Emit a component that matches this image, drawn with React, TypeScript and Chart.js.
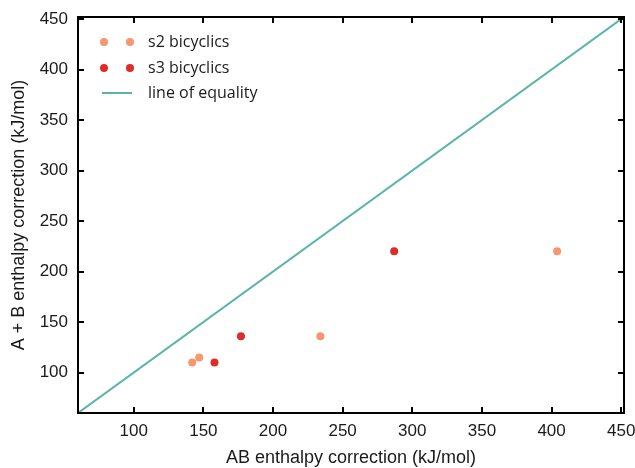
import React, { useEffect, useRef } from "react";
import { Chart, registerables } from "chart.js";

Chart.register(...registerables);

const s2X = [142, 147, 234, 404];
const s2Y = [110, 115, 136, 220];
const s3X = [158, 177, 287];
const s3Y = [110, 136, 220];
const equalityX = [60, 452];
const xTicks = [100, 150, 200, 250, 300, 350, 400, 450];
const yTicks = [100, 150, 200, 250, 300, 350, 400, 450];
const legendLabels = ["s2 bicyclics", "s3 bicyclics", "line of equality"];
const xTitle = "AB enthalpy correction (kJ/mol)";
const yTitle = "A + B enthalpy correction (kJ/mol)";

const C_S2 = "#f9956f";
const C_S3 = "#de2d26";
const C_LINE = "#5ab4ac";
const FONT = "'Liberation Sans', Arial, sans-serif";
const LEGEND_FONT = "'Open Sans', sans-serif";

const framePlugin = {
  id: "frameTicks",
  afterDraw(chart: any) {
    const { ctx, chartArea } = chart;
    const { left, right, top, bottom } = chartArea;
    const xs = chart.scales.x;
    const ys = chart.scales.y;
    ctx.save();
    ctx.strokeStyle = "#000";
    ctx.lineWidth = 2;
    ctx.strokeRect(left, top, right - left, bottom - top);
    const L = 6;
    ctx.beginPath();
    xs.ticks.forEach((t: any) => {
      const px = Math.round(xs.getPixelForValue(t.value));
      ctx.moveTo(px, bottom);
      ctx.lineTo(px, bottom - L);
      ctx.moveTo(px, top);
      ctx.lineTo(px, top + L);
    });
    ys.ticks.forEach((t: any) => {
      const py = Math.round(ys.getPixelForValue(t.value));
      ctx.moveTo(left, py);
      ctx.lineTo(left + L, py);
      ctx.moveTo(right, py);
      ctx.lineTo(right - L, py);
    });
    ctx.stroke();

    // legend
    const colors = [C_S2, C_S3, C_LINE];
    const rows = [25, 51, 76];
    ctx.font = `16px ${LEGEND_FONT}`;
    ctx.textBaseline = "middle";
    ctx.textAlign = "left";
    legendLabels.forEach((lab, i) => {
      const y = top + rows[i];
      const m1 = left + 26;
      const m2 = left + 52;
      if (i < 2) {
        ctx.fillStyle = colors[i];
        [m1, m2].forEach((mx) => {
          ctx.beginPath();
          ctx.arc(mx, y, 4, 0, Math.PI * 2);
          ctx.fill();
        });
      } else {
        ctx.strokeStyle = colors[i];
        ctx.lineWidth = 2;
        ctx.beginPath();
        ctx.moveTo(m1 - 2, y);
        ctx.lineTo(m2 + 2, y);
        ctx.stroke();
      }
      ctx.fillStyle = "#1a1a1a";
      ctx.fillText(lab, left + 70, y);
    });
    ctx.restore();
  },
};

export default function App() {
  const ref = useRef<HTMLCanvasElement>(null);
  useEffect(() => {
    document.body.style.margin = "0";
    const chart = new Chart(ref.current!, {
      type: "scatter",
      data: {
        datasets: [
          {
            label: legendLabels[2],
            type: "line",
            data: equalityX.map((v) => ({ x: v, y: v })),
            borderColor: C_LINE,
            borderWidth: 2,
            pointRadius: 0,
            fill: false,
          },
          {
            label: legendLabels[0],
            data: s2X.map((v, i) => ({ x: v, y: s2Y[i] })),
            backgroundColor: C_S2,
            borderColor: C_S2,
            pointRadius: 4,
            borderWidth: 0,
          },
          {
            label: legendLabels[1],
            data: s3X.map((v, i) => ({ x: v, y: s3Y[i] })),
            backgroundColor: C_S3,
            borderColor: C_S3,
            pointRadius: 4,
            borderWidth: 0,
          },
        ],
      },
      options: {
        animation: false,
        responsive: false,
        layout: { padding: { top: 17, right: 11, left: 0, bottom: 0 } },
        plugins: { legend: { display: false }, tooltip: { enabled: false } },
        scales: {
          x: {
            type: "linear",
            min: 60,
            max: 452,
            afterBuildTicks: (s: any) => {
              s.ticks = xTicks.map((v) => ({ value: v }));
            },
            afterFit: (s: any) => {
              s.height = 55;
              s.paddingLeft = 0;
              s.paddingRight = 0;
            },
            grid: { display: false, drawTicks: false },
            border: { display: true, color: "#000", width: 2 },
            ticks: {
              color: "#1a1a1a",
              font: { family: FONT, size: 17 },
              padding: 8,
              maxRotation: 0,
              callback: (v: any) => String(v),
            },
            title: {
              display: true,
              text: xTitle,
              color: "#1a1a1a",
              font: { family: FONT, size: 18 },
              padding: { top: 0, bottom: -1 },
            },
          },
          y: {
            type: "linear",
            min: 60,
            max: 452,
            afterBuildTicks: (s: any) => {
              s.ticks = yTicks.map((v) => ({ value: v }));
            },
            afterFit: (s: any) => {
              s.width = 78;
              s.paddingTop = 0;
              s.paddingBottom = 0;
            },
            grid: { display: false, drawTicks: false },
            border: { display: true, color: "#000", width: 2 },
            ticks: {
              color: "#1a1a1a",
              font: { family: FONT, size: 17 },
              padding: 10,
              callback: (v: any) => String(v),
            },
            title: {
              display: true,
              text: yTitle,
              color: "#1a1a1a",
              font: { family: FONT, size: 18 },
              padding: { top: 8, bottom: 0 },
            },
          },
        },
      },
      plugins: [framePlugin],
    });
    return () => chart.destroy();
  }, []);
  return (
    <div style={{ position: "absolute", left: 0, top: 0, width: 635, height: 468 }}>
      <canvas ref={ref} width={635} height={468} style={{ width: 635, height: 468 }} />
    </div>
  );
}
